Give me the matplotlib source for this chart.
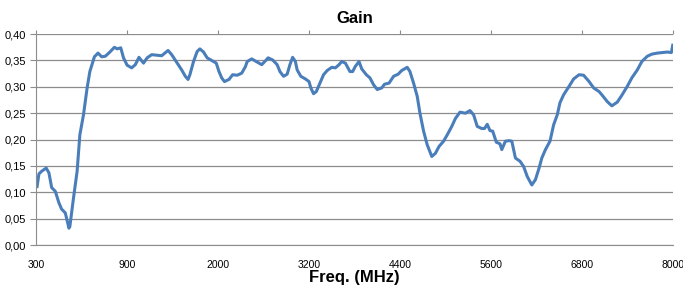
import numpy as np
import matplotlib
matplotlib.use("Agg")
import matplotlib.pyplot as plt

plt.rcParams['font.family'] = ['Liberation Sans', 'DejaVu Sans']

# position along the (category) frequency axis, 0 = 300 MHz ... 7 = 8000 MHz
pos = [0.01, 0.03, 0.06, 0.11, 0.14, 0.17, 0.21, 0.25, 0.28, 0.32, 0.36, 0.37,
       0.41, 0.45, 0.48, 0.52, 0.56, 0.59, 0.64, 0.68, 0.72, 0.76, 0.81, 0.86,
       0.89, 0.93, 0.96, 1.00, 1.05, 1.09, 1.13, 1.18, 1.22, 1.27, 1.33, 1.38,
       1.45, 1.49, 1.55, 1.60, 1.64, 1.67, 1.69, 1.73, 1.77, 1.80, 1.84, 1.88,
       1.93, 1.98, 2.01, 2.04, 2.07, 2.12, 2.16, 2.21, 2.26, 2.30, 2.32, 2.37,
       2.42, 2.48, 2.53, 2.55, 2.60, 2.65, 2.68, 2.72, 2.76, 2.79, 2.82, 2.85,
       2.87, 2.91, 2.96, 3.00, 3.02, 3.05, 3.08, 3.12, 3.16, 3.20, 3.25, 3.29,
       3.33, 3.36, 3.40, 3.45, 3.48, 3.51, 3.55, 3.58, 3.63, 3.67, 3.71, 3.75,
       3.80, 3.83, 3.88, 3.93, 3.98, 4.02, 4.08, 4.11, 4.15, 4.19, 4.22, 4.26,
       4.30, 4.35, 4.39, 4.43, 4.48, 4.52, 4.57, 4.61, 4.66, 4.72, 4.77, 4.81,
       4.85, 4.90, 4.93, 4.96, 4.99, 5.02, 5.06, 5.10, 5.12, 5.16, 5.20, 5.23,
       5.27, 5.32, 5.36, 5.40, 5.45, 5.49, 5.53, 5.56, 5.60, 5.65, 5.69, 5.73,
       5.76, 5.80, 5.86, 5.91, 5.97, 6.02, 6.08, 6.13, 6.19, 6.22, 6.28, 6.33,
       6.39, 6.44, 6.50, 6.55, 6.61, 6.66, 6.72, 6.77, 6.83, 6.88, 6.94, 6.985,
       7.00]
gain = [0.111, 0.135, 0.140, 0.146, 0.137, 0.109, 0.102, 0.080, 0.068, 0.061,
        0.032, 0.035, 0.089, 0.140, 0.209, 0.247, 0.298, 0.329, 0.357, 0.364,
        0.357, 0.358, 0.366, 0.375, 0.372, 0.374, 0.355, 0.341, 0.336, 0.342,
        0.356, 0.345, 0.355, 0.361, 0.360, 0.359, 0.369, 0.361, 0.345, 0.332,
        0.320, 0.314, 0.323, 0.348, 0.367, 0.372, 0.366, 0.355, 0.350, 0.345,
        0.329, 0.317, 0.310, 0.314, 0.323, 0.322, 0.326, 0.338, 0.348, 0.353,
        0.348, 0.342, 0.351, 0.355, 0.351, 0.342, 0.329, 0.320, 0.324, 0.342,
        0.356, 0.348, 0.332, 0.320, 0.315, 0.310, 0.298, 0.287, 0.291, 0.307,
        0.323, 0.331, 0.337, 0.336, 0.342, 0.348, 0.345, 0.329, 0.329, 0.339,
        0.348, 0.334, 0.323, 0.317, 0.304, 0.295, 0.298, 0.305, 0.307, 0.320,
        0.324, 0.331, 0.337, 0.329, 0.307, 0.282, 0.250, 0.216, 0.190, 0.168,
        0.174, 0.187, 0.197, 0.209, 0.225, 0.240, 0.252, 0.250, 0.255, 0.247,
        0.225, 0.221, 0.221, 0.229, 0.217, 0.216, 0.195, 0.192, 0.181, 0.197,
        0.198, 0.197, 0.165, 0.159, 0.149, 0.130, 0.114, 0.124, 0.146, 0.165,
        0.181, 0.197, 0.228, 0.247, 0.270, 0.285, 0.301, 0.315, 0.323, 0.322,
        0.310, 0.298, 0.291, 0.285, 0.272, 0.264, 0.271, 0.284, 0.301, 0.317,
        0.332, 0.348, 0.358, 0.362, 0.364, 0.365, 0.366, 0.365, 0.379]

freq_labels = ['300', '900', '2000', '3200', '4400', '5600', '6800', '8000']
y_ticks = [0.0, 0.05, 0.10, 0.15, 0.20, 0.25, 0.30, 0.35, 0.40]

fig = plt.figure(figsize=(6.83, 2.89), dpi=100)
ax = fig.add_axes([0.053, 0.152, 0.932, 0.73])

ax.plot(pos, gain, color='#4a7ebb', lw=2.2, solid_joinstyle='round')

ax.set_xlim(0, 7)
ax.set_ylim(0, 0.40)
ax.set_xticks(range(len(freq_labels)))
ax.set_xticklabels(freq_labels)
ax.set_yticks(y_ticks)
ax.set_yticklabels([f"{v:.2f}".replace('.', ',') for v in y_ticks])

ax.grid(axis='y', color='#8c8c8c', lw=0.9)
ax.set_axisbelow(True)
for s in ['right', 'top']:
    ax.spines[s].set_visible(False)
ax.spines['left'].set_color('#8c8c8c')
ax.spines['bottom'].set_color('#8c8c8c')

ax.tick_params(axis='x', bottom=False, top=True, labelbottom=True,
               direction='out', length=3, color='#8c8c8c', labelsize=7.5, pad=8)
ax.tick_params(axis='y', direction='out', length=4, color='#8c8c8c', labelsize=8)

ax.set_title('Gain', fontsize=12, fontweight='bold', pad=8)
ax.set_xlabel('Freq. (MHz)', fontsize=12, fontweight='bold', labelpad=0)

fig.savefig('out.png', dpi=100)
